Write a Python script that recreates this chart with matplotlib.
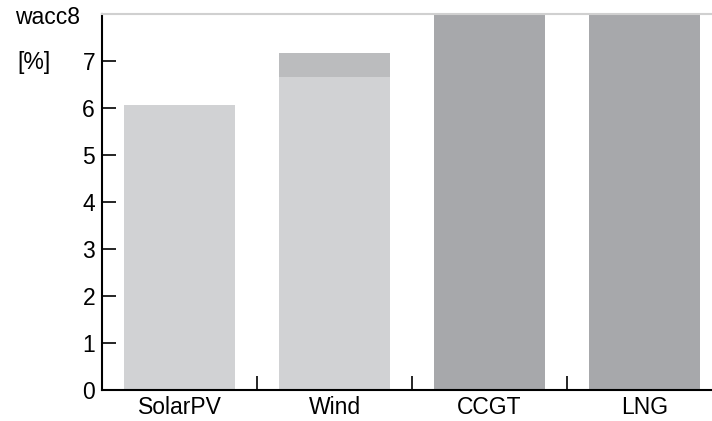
import numpy as np
import matplotlib.pyplot as plt

plt.rcParams['font.family'] = ['Liberation Sans', 'DejaVu Sans']

categories = ['SolarPV', 'Wind', 'CCGT', 'LNG']
base_vals = [6.07, 6.67, 0, 0]
extra_vals = [0, 0.49, 0, 0]
fossil_vals = [0, 0, 8, 8]

fig = plt.figure(figsize=[7.12, 4.21], dpi=100)
ax = fig.add_axes([0.1433, 0.0736, 0.871, 0.8931])

x = np.arange(len(categories))
w = 0.72
ax.bar(x, base_vals, width=w, color='#d1d2d4', linewidth=0)
ax.bar(x, extra_vals, width=w, bottom=base_vals, color='#bbbcbe', linewidth=0)
ax.bar(x, fossil_vals, width=w, color='#a7a8ab', linewidth=0)

ax.set_xlim(-0.5, 3.5)
ax.set_ylim(0, 8)
ax.set_yticks(range(0, 9))
ax.set_yticklabels([str(i) for i in range(0, 8)] + [''])
ax.tick_params(axis='y', direction='in', length=10, width=1.2, labelsize=16.5, pad=5)

# category labels centred, ticks at boundaries
ax.set_xticks(x)
ax.set_xticklabels(categories)
ax.tick_params(axis='x', which='major', length=0, labelsize=16.5, pad=4)
ax.set_xticks([0.5, 1.5, 2.5], minor=True)
ax.tick_params(axis='x', which='minor', direction='in', length=10, width=1.2)

ax.spines['left'].set_linewidth(1.5)
ax.spines['bottom'].set_linewidth(1.5)
ax.spines['top'].set_color('#d0d0d0')
ax.spines['top'].set_linewidth(1.5)
ax.spines['right'].set_visible(False)

fig.text(0.021, 0.958, 'wacc8', fontsize=16.5, va='center', ha='left')
fig.text(0.025, 0.851, '[%]', fontsize=16.5, va='center', ha='left')

plt.savefig('out.png', dpi=100)
